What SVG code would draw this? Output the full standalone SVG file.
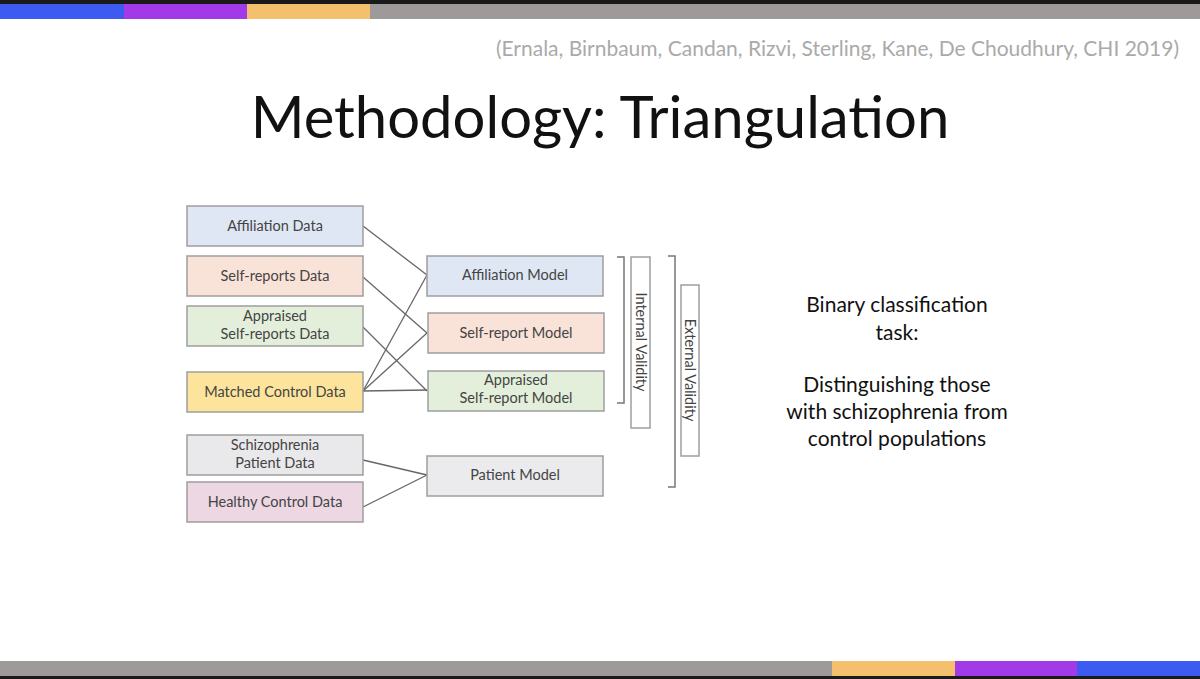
<svg xmlns="http://www.w3.org/2000/svg" width="1200" height="679" viewBox="0 0 1200 679">
<style>
.b{stroke:#9e9e9e;stroke-width:1.5}
.t{font-family:Lato,"Liberation Sans",sans-serif;font-size:14.5px;fill:#444;text-anchor:middle}
.c line{stroke:#666;stroke-width:1.3}
.br{fill:none;stroke:#777;stroke-width:1.5}
</style>
<rect width="1200" height="679" fill="#ffffff"/>
<rect width="1200" height="4" fill="#1a1a1a"/>
<rect y="4" width="124" height="15" fill="#3d5af1"/>
<rect x="124" y="4" width="123" height="15" fill="#a23ae8"/>
<rect x="247" y="4" width="123" height="15" fill="#f5c06e"/>
<rect x="370" y="4" width="830" height="15" fill="#9e9a9a"/>
<rect y="661" width="832" height="15" fill="#9e9a9a"/>
<rect x="832" y="661" width="123" height="15" fill="#f5c06e"/>
<rect x="955" y="661" width="122" height="15" fill="#a23ae8"/>
<rect x="1077" y="661" width="123" height="15" fill="#3d5af1"/>
<rect y="676" width="1200" height="3" fill="#1a1a1a"/>
<text x="1179" y="56" font-family="Lato,'Liberation Sans',sans-serif" font-size="21" fill="#aaa" text-anchor="end">(Ernala, Birnbaum, Candan, Rizvi, Sterling, Kane, De Choudhury, CHI 2019)</text>
<text x="600" y="138" font-family="Lato,'Liberation Sans',sans-serif" font-size="58" fill="#111" text-anchor="middle">Methodology: Triangulation</text>
<g class="c">
<line x1="363" y1="226" x2="427" y2="275"/>
<line x1="363" y1="277" x2="427" y2="333"/>
<line x1="363" y1="327" x2="427" y2="391"/>
<line x1="363" y1="391" x2="427" y2="275"/>
<line x1="363" y1="391" x2="427" y2="333"/>
<line x1="363" y1="391" x2="427" y2="390"/>
<line x1="363" y1="460" x2="427" y2="475"/>
<line x1="363" y1="507" x2="427" y2="475"/>
</g>
<g id="n1"><rect class="b" x="187" y="206" width="176" height="40" fill="#dfe7f5"/><text class="t" x="275" y="231">Affiliation Data</text></g>
<g id="n2"><rect class="b" x="187" y="256" width="176" height="40" fill="#f9e2d8"/><text class="t" x="275" y="281">Self-reports Data</text></g>
<g id="n3"><rect class="b" x="187" y="306" width="176" height="40" fill="#e3efdb"/><text class="t" x="275" y="321">Appraised</text><text class="t" x="275" y="339">Self-reports Data</text></g>
<g id="n4"><rect class="b" x="187" y="372" width="176" height="40" fill="#fce49c"/><text class="t" x="275" y="397">Matched Control Data</text></g>
<g id="n5"><rect class="b" x="187" y="435" width="176" height="40" fill="#e9e8ea"/><text class="t" x="275" y="450">Schizophrenia</text><text class="t" x="275" y="468">Patient Data</text></g>
<g id="n6"><rect class="b" x="187" y="482" width="176" height="40" fill="#ecd7e3"/><text class="t" x="275" y="507">Healthy Control Data</text></g>
<g id="m1"><rect class="b" x="427" y="256" width="176" height="40" fill="#dfe7f5"/><text class="t" x="515" y="280">Affiliation Model</text></g>
<g id="m2"><rect class="b" x="428" y="313" width="176" height="40" fill="#f9e2d8"/><text class="t" x="516" y="338">Self-report Model</text></g>
<g id="m3"><rect class="b" x="428" y="371" width="176" height="40" fill="#e3efdb"/><text class="t" x="516" y="385">Appraised</text><text class="t" x="516" y="403">Self-report Model</text></g>
<g id="m4"><rect class="b" x="427" y="456" width="176" height="40" fill="#ebebed"/><text class="t" x="515" y="480">Patient Model</text></g>
<g id="internal">
<path class="br" d="M617 257 H624 V403 H617"/>
<rect class="b" x="631" y="257" width="19" height="171" fill="#fff"/>
<text class="t" transform="translate(636 342) rotate(90)">Internal Validity</text>
</g>
<g id="external">
<path class="br" d="M668 256 H675 V487 H668"/>
<rect class="b" x="681" y="285" width="18" height="171" fill="#fff"/>
<text class="t" transform="translate(685 370) rotate(90)">External Validity</text>
</g>
<g font-family="Lato,'Liberation Sans',sans-serif" font-size="21" fill="#111" text-anchor="middle">
<text x="897" y="312">Binary classification</text>
<text x="897" y="340">task:</text>
<text x="897" y="392">Distinguishing those</text>
<text x="897" y="419">with schizophrenia from</text>
<text x="897" y="446">control populations</text>
</g>
</svg>
